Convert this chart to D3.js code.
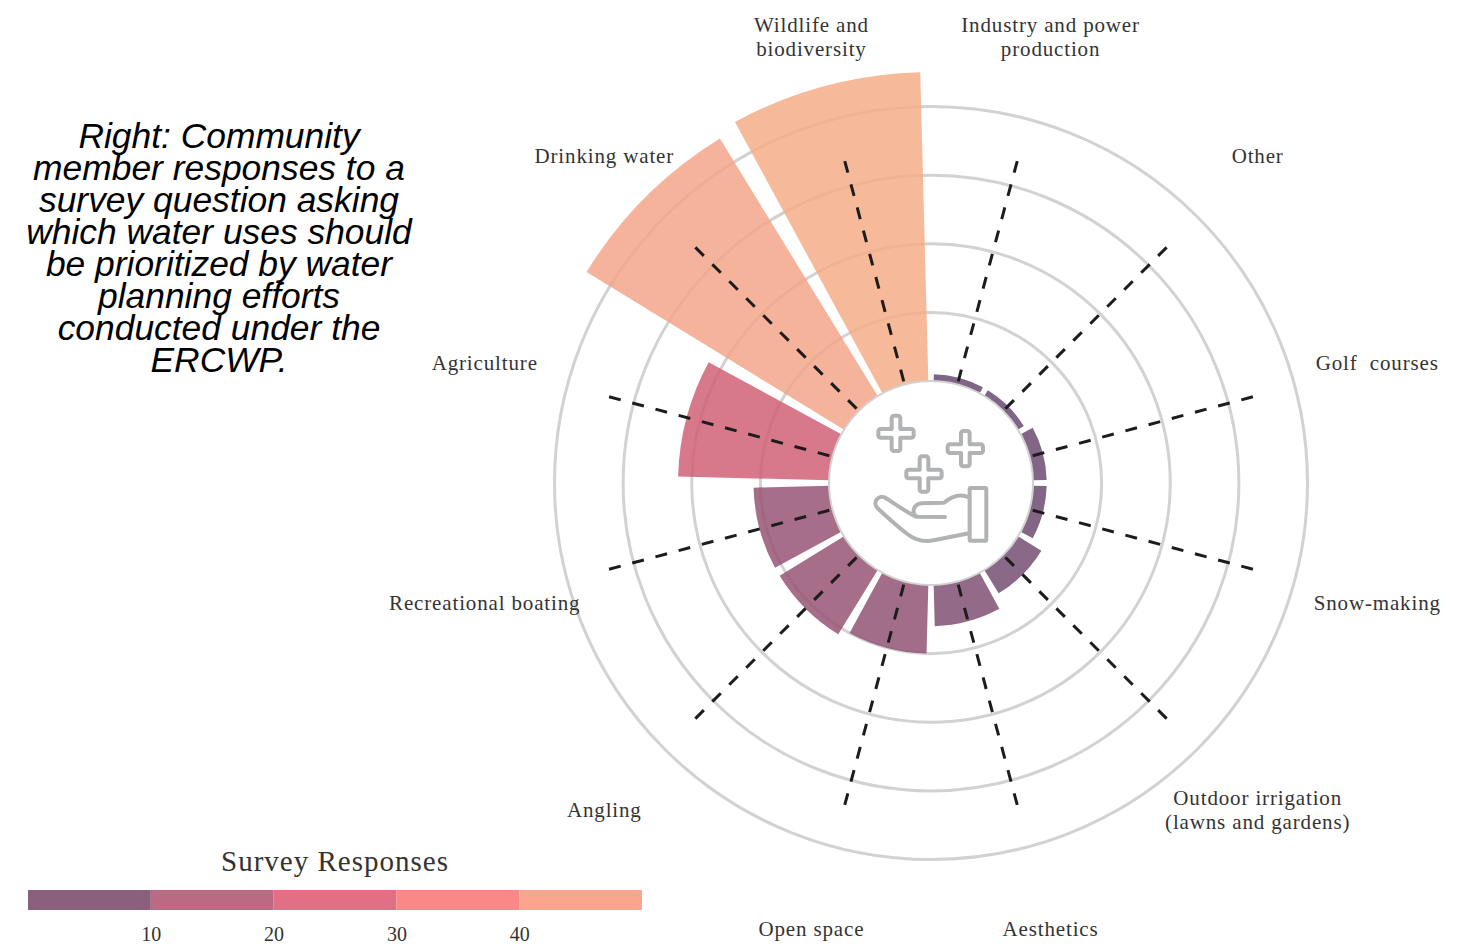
<!DOCTYPE html>
<html>
<head>
<meta charset="utf-8">
<script src="https://cdnjs.cloudflare.com/ajax/libs/d3/7.8.5/d3.min.js"></script>
<style>
html, body { margin: 0; padding: 0; background: #fff; }
svg { display: block; }
.serif { font-family: "Liberation Serif", serif; fill: #333; }
</style>
</head>
<body>
<div id="chart"></div>
<script>
// Chart data, clockwise from the top
const categories = ['Industry and power production', 'Other', 'Golf courses', 'Snow-making',
    'Outdoor irrigation (lawns and gardens)', 'Aesthetics', 'Open space', 'Angling',
    'Recreational boating', 'Agriculture', 'Drinking water', 'Wildlife and biodiversity'];
const responses = [1, 1, 2, 2, 4, 6, 10, 11, 11, 22, 44, 45];
const labelLines = [['Industry and power', 'production'], ['Other'], ['Golf  courses'], ['Snow-making'],
    ['Outdoor irrigation', '(lawns and gardens)'], ['Aesthetics'], ['Open space'], ['Angling'],
    ['Recreational boating'], ['Agriculture'], ['Drinking water'], ['Wildlife and', 'biodiversity']];
const ringValues = [0, 10, 20, 30, 40];
const legendBreaks = [0, 10, 20, 30, 40, 50];
const legendTicks = [10, 20, 30, 40];
const legendColors = ['#8a607c', '#bc6a84', '#e26f84', '#f98887', '#faa68e'];
const captionLines = ['Right: Community', 'member responses to a', 'survey question asking',
    'which water uses should', 'be prioritized by water', 'planning efforts',
    'conducted under the', 'ERCWP.'];

// Dimensions
const svgWidth = 1473;
const svgHeight = 944;
const cx = 931;
const cy = 483;
const spokeEnd = 33.7;
const labelRadius = 462;
const barGap = Math.PI / 60;

let svg = d3.select('#chart')
    .append('svg')
    .attr('width', svgWidth)
    .attr('height', svgHeight);

// Scales
let angleScale = d3.scaleBand()
    .domain(categories)
    .range([0, 2 * Math.PI]);

let radiusScale = d3.scaleLinear()
    .domain([0, 40])
    .range([102, 376.5]);

let colorScale = d3.scaleLinear()
    .domain([0, 10, 22, 44, 45])
    .range(['#644971', '#925473', '#d06276', '#f3a68b', '#f4ad87']);

let chart = svg.append('g')
    .attr('transform', `translate(${cx}, ${cy})`);

// Rings
chart.selectAll('.ring')
    .data(ringValues.slice(1))
    .enter()
    .append('circle')
    .attr('class', 'ring')
    .attr('r', d => radiusScale(d))
    .attr('fill', 'none')
    .attr('stroke', '#d2d2d2')
    .attr('stroke-width', 3);

// Bars
let arc = d3.arc()
    .innerRadius(radiusScale(0))
    .outerRadius(d => radiusScale(d.value))
    .startAngle(d => angleScale(d.key) + barGap / 2)
    .endAngle(d => angleScale(d.key) + angleScale.bandwidth() - barGap / 2);

chart.selectAll('.bar')
    .data(categories.map((key, i) => ({ key, value: responses[i] })))
    .enter()
    .append('path')
    .attr('class', 'bar')
    .attr('d', arc)
    .attr('fill', d => colorScale(d.value))
    .attr('fill-opacity', 0.85);

// Spokes, dashes start from the outer end
const midAngle = key => angleScale(key) + angleScale.bandwidth() / 2;

chart.selectAll('.spoke')
    .data(categories)
    .enter()
    .append('line')
    .attr('class', 'spoke')
    .attr('x1', d => radiusScale(spokeEnd) * Math.sin(midAngle(d)))
    .attr('y1', d => -radiusScale(spokeEnd) * Math.cos(midAngle(d)))
    .attr('x2', d => radiusScale(0) * Math.sin(midAngle(d)))
    .attr('y2', d => -radiusScale(0) * Math.cos(midAngle(d)))
    .attr('stroke', '#1c1c1c')
    .attr('stroke-width', 3)
    .attr('stroke-dasharray', '12 12');

// Centre circle
chart.append('circle')
    .attr('r', radiusScale(0))
    .attr('fill', '#fff')
    .attr('stroke', '#d2d2d2')
    .attr('stroke-width', 2);

// Category labels
let labels = chart.selectAll('.label')
    .data(categories)
    .enter()
    .append('text')
    .attr('class', 'label serif')
    .attr('text-anchor', 'middle')
    .style('font-size', '21px')
    .style('letter-spacing', '0.85px')
    .attr('transform', d => `translate(${labelRadius * Math.sin(midAngle(d))}, ${-labelRadius * Math.cos(midAngle(d))})`);

labels.selectAll('tspan')
    .data((d, i) => labelLines[i].map((line, j) => ({ line, j, n: labelLines[i].length })))
    .enter()
    .append('tspan')
    .attr('x', 0)
    .attr('y', d => (d.j - (d.n - 1) / 2) * 24 + 7)
    .style('white-space', 'pre')
    .text(d => d.line);

// Hand and sparkles icon, traced at 3x
let icon = svg.append('g')
    .attr('transform', 'translate(820, 370) scale(0.3333)')
    .attr('fill', 'none')
    .attr('stroke', '#b0b2b4')
    .attr('stroke-width', 12)
    .attr('stroke-linecap', 'round')
    .attr('stroke-linejoin', 'round');

const plusPath = 'M-13,-46 a7,7 0 0 1 7,-7 h12 a7,7 0 0 1 7,7 v33 h33 a7,7 0 0 1 7,7 v12 a7,7 0 0 1 -7,7 h-33 v33 a7,7 0 0 1 -7,7 h-12 a7,7 0 0 1 -7,-7 v-33 h-33 a7,7 0 0 1 -7,-7 v-12 a7,7 0 0 1 7,-7 h33 z';

icon.selectAll('.plus')
    .data([[228, 190], [436, 236], [312, 312]])
    .enter()
    .append('path')
    .attr('class', 'plus')
    .attr('transform', d => `translate(${d[0]}, ${d[1]})`)
    .attr('d', plusPath);

icon.append('rect')
    .attr('x', 449)
    .attr('y', 354)
    .attr('width', 50)
    .attr('height', 158)
    .attr('rx', 3);

icon.append('path')
    .attr('d', 'M447,382 C425,372 400,374 372,398 L305,400 C280,402 272,432 292,440 L375,441');

icon.append('path')
    .attr('d', 'M288,440 C265,430 225,402 197,384 C178,372 155,395 172,414 C205,445 240,475 262,492 C290,514 320,516 345,510 L447,490');

// Caption
svg.append('text')
    .attr('text-anchor', 'middle')
    .style('font-family', '"Liberation Sans Narrow", "Liberation Sans", sans-serif')
    .style('font-style', 'italic')
    .style('font-size', '35.4px')
    .style('fill', '#000')
    .selectAll('tspan')
    .data(captionLines)
    .enter()
    .append('tspan')
    .attr('x', 219)
    .attr('y', (d, i) => 148 + i * 32)
    .text(d => d);

// Legend
let legendScale = d3.scaleLinear()
    .domain([0, 50])
    .range([28, 642]);

svg.selectAll('.legend')
    .data(legendColors)
    .enter()
    .append('rect')
    .attr('class', 'legend')
    .attr('x', (d, i) => legendScale(legendBreaks[i]))
    .attr('y', 890)
    .attr('width', (d, i) => legendScale(legendBreaks[i + 1]) - legendScale(legendBreaks[i]))
    .attr('height', 20)
    .attr('fill', d => d);

let legendAxis = svg.append('g')
    .attr('transform', 'translate(0, 910)')
    .call(d3.axisBottom(legendScale).tickValues(legendTicks).tickSize(0).tickPadding(17));

legendAxis.select('.domain').remove();
legendAxis.selectAll('text')
    .attr('class', 'serif')
    .style('font-size', '20px');

svg.append('text')
    .attr('class', 'serif')
    .attr('x', 335)
    .attr('y', 871)
    .attr('text-anchor', 'middle')
    .style('font-size', '29px')
    .style('letter-spacing', '1px')
    .text('Survey Responses');
</script>
</body>
</html>
